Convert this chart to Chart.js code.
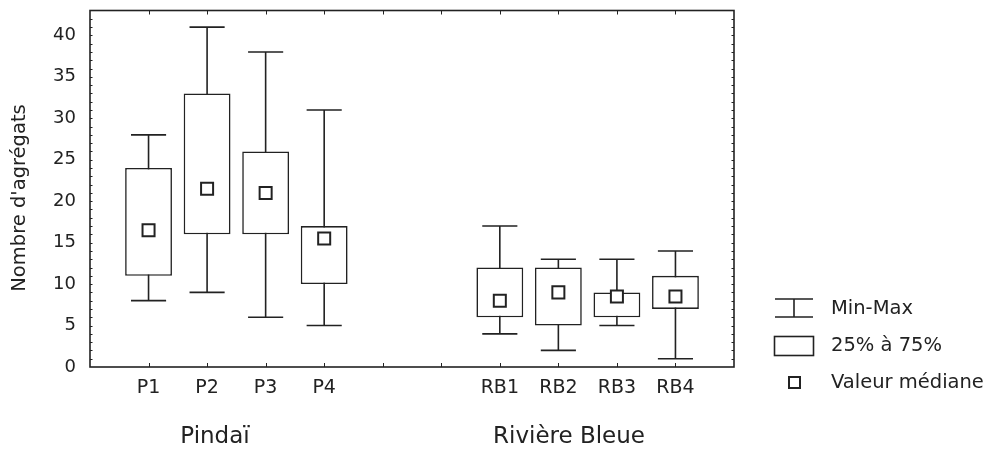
<!DOCTYPE html>
<html>
<head>
<meta charset="utf-8">
<script src="https://cdn.jsdelivr.net/npm/chart.js@4.4.0/dist/chart.umd.min.js"></script>
<style>
  html, body { margin: 0; padding: 0; background: #fff; }
  #wrap { width: 993px; height: 450px; position: relative; }
</style>
</head>
<body>
<div id="wrap"><canvas id="boxChart" width="993" height="450"></canvas></div>
<script>
// ================= DATA =================
const categories   = ['', 'P1', 'P2', 'P3', 'P4', '', '', 'RB1', 'RB2', 'RB3', 'RB4', ''];
const minValues    = [null,  8,    9,    6,    5,  null, null,  4,   2,   5,   1,  null];
const q1Values     = [null, 11,   16,   16,   10,  null, null,  6,   5,   6,   7,  null];
const medianValues = [null, 16.5, 21.5, 21,  15.5, null, null,  8,   9,   8.5, 8.5, null];
const q3Values     = [null, 24,   33,   26,   17,  null, null, 12,  12,   9,  11,  null];
const maxValues    = [null, 28,   41,   38,   31,  null, null, 17,  13,  13,  14,  null];
const yTickValues  = [0, 5, 10, 15, 20, 25, 30, 35, 40];
const groupLabels  = ['Pindaï', 'Rivière Bleue'];
const legendLabels = ['Min-Max', '25% à 75%', 'Valeur médiane'];
const yTitle = "Nombre d'agrégats";

// ================ STYLE =================
const INK = '#222';
const FONT = '"DejaVu Sans", "Liberation Sans", Arial, sans-serif';

// whiskers, frame, axis ticks, extra labels
const boxExtras = {
  id: 'boxExtras',
  beforeDatasetsDraw(chart) {
    const { ctx, chartArea: a, scales: { x, y } } = chart;
    const slot = x.getPixelForValue(1) - x.getPixelForValue(0);
    const cap = slot * 0.3;
    ctx.save();
    ctx.strokeStyle = INK;
    ctx.lineWidth = 1.6;
    categories.forEach((c, i) => {
      if (minValues[i] == null) return;
      const px = x.getPixelForValue(i);
      const yMin = y.getPixelForValue(minValues[i]);
      const yMax = y.getPixelForValue(maxValues[i]);
      ctx.beginPath();
      ctx.moveTo(px, yMin); ctx.lineTo(px, yMax);
      ctx.moveTo(px - cap, yMin); ctx.lineTo(px + cap, yMin);
      ctx.moveTo(px - cap, yMax); ctx.lineTo(px + cap, yMax);
      ctx.stroke();
    });
    // frame
    ctx.lineWidth = 1.6;
    ctx.strokeRect(a.left, a.top, a.right - a.left, a.bottom - a.top);
    // inward ticks
    ctx.lineWidth = 1;
    ctx.beginPath();
    for (let i = 1; i < categories.length - 1; i++) {
      const px = Math.round(x.getPixelForValue(i)) + 0.5;
      ctx.moveTo(px, a.bottom); ctx.lineTo(px, a.bottom - 4);
      ctx.moveTo(px, a.top); ctx.lineTo(px, a.top + 4);
    }
    for (let v = 1; v <= 42; v++) {
      const py = Math.round(y.getPixelForValue(v)) + 0.5;
      ctx.moveTo(a.left, py); ctx.lineTo(a.left + 2.5, py);
      ctx.moveTo(a.right, py); ctx.lineTo(a.right - 2.5, py);
    }
    ctx.stroke();
    ctx.restore();
  },
  afterDraw(chart) {
    const { ctx } = chart;
    ctx.save();
    ctx.fillStyle = INK;
    ctx.strokeStyle = INK;
    // y title
    ctx.font = '19.5px ' + FONT;
    ctx.textAlign = 'center';
    ctx.textBaseline = 'middle';
    ctx.translate(20, 198);
    ctx.rotate(-Math.PI / 2);
    ctx.fillText(yTitle, 0, 0);
    ctx.setTransform(1, 0, 0, 1, 0, 0);
    // group labels
    ctx.font = '23px ' + FONT;
    ctx.fillText(groupLabels[0], 215, 437);
    ctx.fillText(groupLabels[1], 569, 437);
    // legend
    ctx.lineWidth = 1.6;
    ctx.beginPath();
    ctx.moveTo(775, 299); ctx.lineTo(813, 299);
    ctx.moveTo(775, 317); ctx.lineTo(813, 317);
    ctx.moveTo(794, 299); ctx.lineTo(794, 317);
    ctx.stroke();
    ctx.strokeRect(774.5, 336.5, 39, 19);
    ctx.lineWidth = 2;
    ctx.strokeRect(789, 377, 11, 11);
    ctx.font = '19.5px ' + FONT;
    ctx.textAlign = 'left';
    ctx.fillText(legendLabels[0], 831, 309);
    ctx.fillText(legendLabels[1], 831, 346);
    ctx.fillText(legendLabels[2], 831, 383);
    ctx.restore();
  }
};

const chart = new Chart(document.getElementById('boxChart').getContext('2d'), {
  type: 'bar',
  data: {
    labels: categories,
    datasets: [
      {
        label: '25% à 75%',
        data: categories.map((c, i) => q1Values[i] == null ? null : [q1Values[i], q3Values[i]]),
        backgroundColor: '#fff',
        borderColor: INK,
        borderWidth: 1.6,
        borderSkipped: false,
        barPercentage: 0.8,
        categoryPercentage: 1,
        order: 2
      },
      {
        type: 'line',
        label: 'Valeur médiane',
        data: medianValues,
        showLine: false,
        pointStyle: 'rect',
        pointRadius: 8.5,
        pointHoverRadius: 8.5,
        pointBackgroundColor: '#fff',
        pointBorderColor: INK,
        pointBorderWidth: 2,
        order: 1
      }
    ]
  },
  options: {
    responsive: false,
    animation: false,
    events: [],
    layout: { padding: { left: 0, top: 10, right: 259, bottom: 0 } },
    plugins: { legend: { display: false }, tooltip: { enabled: false } },
    scales: {
      x: {
        type: 'category',
        offset: false,
        grid: { display: false, drawTicks: false },
        border: { display: false },
        ticks: { color: INK, font: { size: 19, family: FONT }, padding: 10, autoSkip: false, maxRotation: 0 },
        afterFit: s => { s.height = 83; s.paddingLeft = 0; s.paddingRight = 0; }
      },
      y: {
        min: 0,
        max: 43,
        grid: { display: false, drawTicks: false },
        border: { display: false },
        afterBuildTicks: s => { s.ticks = yTickValues.map(v => ({ value: v })); },
        ticks: { color: INK, font: { size: 18, family: FONT }, padding: 14 },
        afterFit: s => { s.width = 90; s.paddingTop = 0; s.paddingBottom = 0; }
      }
    }
  },
  plugins: [boxExtras]
});
</script>
</body>
</html>
